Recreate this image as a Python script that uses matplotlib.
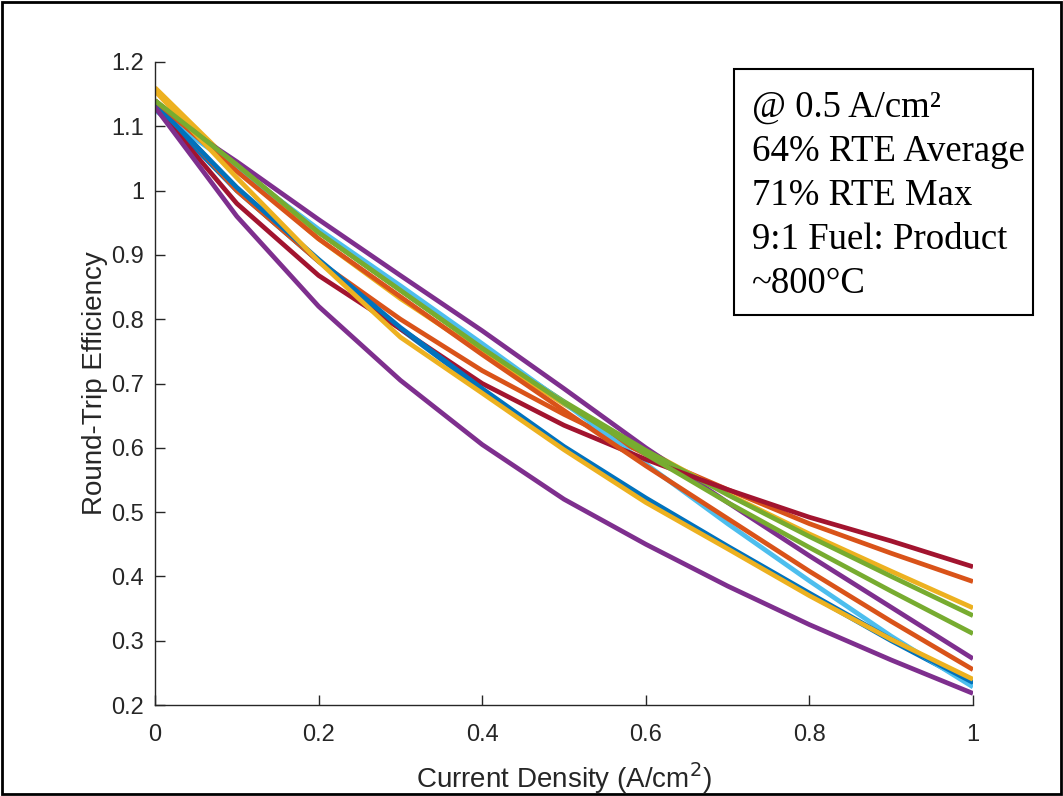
import matplotlib
matplotlib.use('Agg')
import matplotlib.pyplot as plt
from matplotlib.patches import Rectangle


# current density points (A/cm^2)
current_density = [0.0, 0.1, 0.2, 0.3, 0.4, 0.5, 0.6, 0.7, 0.8, 0.9, 1.0]

# round-trip efficiency per cell
rte_blue_a = [1.13, 1.00, 0.89, 0.785, 0.69, 0.60, 0.52, 0.445, 0.372, 0.30, 0.233]
rte_orange_a = [1.14, 1.00, 0.89, 0.80, 0.72, 0.652, 0.59, 0.535, 0.482, 0.436, 0.392]
rte_yellow_a = [1.16, 1.035, 0.925, 0.832, 0.748, 0.668, 0.597, 0.528, 0.466, 0.408, 0.351]
rte_purple_a = [1.13, 1.045, 0.955, 0.868, 0.782, 0.692, 0.60, 0.515, 0.432, 0.352, 0.272]
rte_green_a = [1.14, 1.04, 0.935, 0.845, 0.755, 0.672, 0.596, 0.527, 0.462, 0.40, 0.339]
rte_cyan = [1.125, 1.035, 0.94, 0.852, 0.762, 0.67, 0.575, 0.482, 0.393, 0.307, 0.228]
rte_darkred = [1.13, 0.98, 0.868, 0.785, 0.70, 0.635, 0.582, 0.535, 0.492, 0.455, 0.415]
rte_blue_b = [1.135, 1.005, 0.893, 0.787, 0.692, 0.602, 0.522, 0.447, 0.374, 0.302, 0.235]
rte_orange_b = [1.14, 1.03, 0.925, 0.835, 0.745, 0.658, 0.572, 0.49, 0.408, 0.33, 0.255]
rte_yellow_b = [1.155, 1.02, 0.89, 0.772, 0.685, 0.597, 0.515, 0.443, 0.37, 0.302, 0.24]
rte_purple_b = [1.13, 0.96, 0.82, 0.705, 0.605, 0.52, 0.45, 0.385, 0.325, 0.27, 0.218]
rte_green_b = [1.14, 1.04, 0.935, 0.845, 0.755, 0.67, 0.59, 0.515, 0.445, 0.377, 0.311]

series = [rte_blue_a, rte_orange_a, rte_yellow_a, rte_purple_a, rte_green_a, rte_cyan,
          rte_darkred, rte_blue_b, rte_orange_b, rte_yellow_b, rte_purple_b, rte_green_b]

# matlab default colour order
colors = ['#0072BD', '#D95319', '#EDB120', '#7E2F8E', '#77AC30', '#4DBEEE', '#A2142F']

note_lines = ['@ 0.5 A/cm\u00b2', '64% RTE Average', '71% RTE Max',
              '9:1 Fuel: Product', '~800\u00b0C']

plt.rcParams['font.family'] = ['Liberation Sans', 'DejaVu Sans']

W, H = 1063, 796
fig = plt.figure(figsize=(W / 100, H / 100), dpi=100)
ax = fig.add_axes([155 / W, 1 - 705 / H, 818 / W, 643 / H])

for i, vals in enumerate(series):
    ax.plot(current_density, vals, color=colors[i % len(colors)], lw=3.4,
            solid_joinstyle='round', solid_capstyle='butt')

ax.set_xlim(0, 1)
ax.set_ylim(0.2, 1.2)
ax.set_xticks([0, 0.2, 0.4, 0.6, 0.8, 1])
ax.set_xticklabels(['0', '0.2', '0.4', '0.6', '0.8', '1'])
ax.set_yticks([0.2, 0.3, 0.4, 0.5, 0.6, 0.7, 0.8, 0.9, 1.0, 1.1, 1.2])
ax.set_yticklabels(['0.2', '0.3', '0.4', '0.5', '0.6', '0.7', '0.8', '0.9', '1', '1.1', '1.2'])
ax.spines['top'].set_visible(False)
ax.spines['right'].set_visible(False)
for s in ['left', 'bottom']:
    ax.spines[s].set_color('#262626')
    ax.spines[s].set_linewidth(1.0)
ax.tick_params(direction='in', length=7, width=1.0, colors='#262626', labelsize=17)
ax.tick_params(axis='x', pad=14)
ax.tick_params(axis='y', pad=8)
ax.set_xlabel('Current Density (A/cm$^{2}$)', fontsize=20, color='#262626', labelpad=10)
ax.set_ylabel('Round-Trip Efficiency', fontsize=20, color='#262626', labelpad=2)

# annotation box, drawn in figure pixels
fig.patches.append(Rectangle((734 / W, 1 - 315 / H), 299 / W, 246 / H,
                             transform=fig.transFigure, fill=True, fc='white',
                             ec='black', lw=1.5, zorder=5))
for k, line in enumerate(note_lines):
    fig.text(752 / W, 1 - (117 + 44 * k) / H, line, family='Liberation Serif',
             fontsize=26.5, va='baseline', ha='left', color='black', zorder=6)

# outer frame around the whole picture
fig.patches.append(Rectangle((0.002, 0.002), 0.996, 0.996, transform=fig.transFigure,
                             fill=False, ec='black', lw=2))

fig.savefig('out.png', dpi=100)
